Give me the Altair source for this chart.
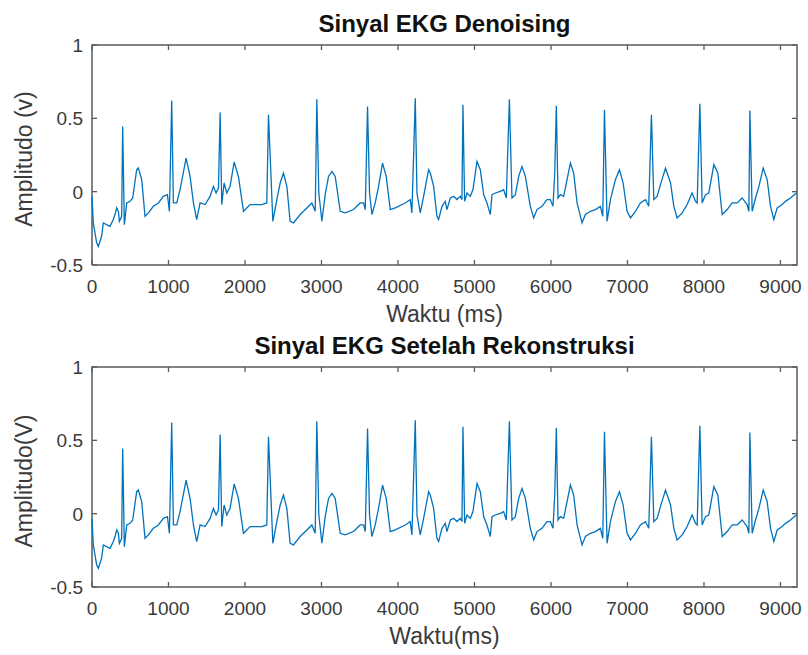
import altair as alt
import pandas as pd

# ECG trace, time in ms and amplitude in volts (vertices of the plotted polyline)
TIME = [
    0, 17, 61, 83, 126, 148, 235, 279, 301, 323, 345, 358, 388, 401, 423, 454, 497, 532,
    584, 606, 650, 693, 737, 802, 868, 933, 986, 1012, 1042, 1064, 1108, 1151, 1230, 1282,
    1326, 1369, 1413, 1478, 1544, 1587, 1622, 1653, 1675, 1696, 1727, 1762, 1805, 1858,
    1914, 1958, 1980, 2067, 2220, 2285, 2307, 2364, 2416, 2460, 2503, 2547, 2590, 2634,
    2721, 2809, 2874, 2918, 2939, 2965, 3005, 3048, 3092, 3136, 3179, 3245, 3310, 3419,
    3506, 3550, 3572, 3602, 3628, 3659, 3702, 3746, 3798, 3846, 3899, 3964, 4095, 4160,
    4182, 4226, 4248, 4291, 4335, 4400, 4422, 4466, 4509, 4531, 4575, 4618, 4640, 4684,
    4727, 4771, 4814, 4836, 4849, 4871, 4902, 4945, 4980, 5033, 5076, 5120, 5163, 5207,
    5229, 5272, 5338, 5381, 5416, 5456, 5490, 5534, 5578, 5621, 5665, 5730, 5774, 5817,
    5883, 5947, 5991, 6026, 6049, 6070, 6092, 6123, 6166, 6210, 6254, 6297, 6341, 6406,
    6450, 6515, 6581, 6646, 6677, 6699, 6733, 6777, 6842, 6895, 6943, 6995, 7039, 7104,
    7169, 7235, 7278, 7313, 7344, 7388, 7431, 7497, 7563, 7606, 7649, 7715, 7780, 7845,
    7889, 7911, 7946, 7976, 8020, 8063, 8129, 8181, 8238, 8303, 8369, 8434, 8499, 8564,
    8587, 8600, 8630, 8674, 8718, 8774, 8826, 8870, 8913, 8957, 9022, 9066, 9131, 9184,
    9210,
]
AMP = [
    -0.032, -0.213, -0.349, -0.372, -0.304, -0.213, -0.236, -0.190, -0.156, -0.111, -0.134,
    -0.202, -0.168, 0.444, -0.225, -0.077, -0.066, -0.043, 0.150, 0.161, 0.082, -0.168,
    -0.145, -0.100, -0.077, -0.032, -0.020, -0.134, 0.621, -0.077, -0.077, 0.014, 0.229,
    0.104, -0.077, -0.190, -0.077, -0.088, -0.032, 0.036, -0.009, 0.025, 0.540, -0.088,
    0.059, -0.009, 0.036, 0.202, 0.104, -0.054, -0.134, -0.088, -0.088, -0.077, 0.524,
    -0.202, -0.054, 0.059, 0.127, 0.036, -0.202, -0.213, -0.156, -0.111, -0.077, -0.134,
    0.630, -0.009, -0.202, -0.020, 0.104, 0.138, 0.104, -0.134, -0.145, -0.122, -0.077,
    -0.077, -0.122, 0.581, -0.009, -0.156, -0.077, 0.036, 0.195, 0.104, -0.122, -0.111,
    -0.077, -0.054, -0.145, 0.637, -0.009, -0.145, -0.032, 0.150, 0.127, 0.036, -0.168,
    -0.190, -0.100, -0.066, -0.122, -0.043, -0.032, -0.054, -0.032, -0.054, 0.592, -0.066,
    -0.009, -0.032, 0.014, 0.206, 0.150, -0.020, -0.077, -0.156, -0.020, -0.009, 0.002,
    0.014, -0.043, 0.630, -0.043, -0.020, 0.104, 0.172, 0.104, -0.100, -0.179, -0.122,
    -0.100, -0.054, -0.054, -0.100, 0.127, 0.585, -0.043, -0.020, -0.032, 0.082, 0.195,
    0.127, -0.077, -0.213, -0.156, -0.134, -0.122, -0.100, -0.168, 0.558, -0.202, -0.054,
    0.082, 0.150, 0.059, -0.134, -0.179, -0.134, -0.077, -0.054, -0.100, 0.524, -0.054,
    -0.032, 0.048, 0.161, 0.059, -0.100, -0.179, -0.145, -0.088, -0.009, -0.066, -0.077,
    0.599, -0.077, -0.020, -0.009, 0.184, 0.127, -0.156, -0.122, -0.077, -0.077, -0.043,
    -0.088, -0.134, 0.553, -0.134, -0.043, 0.036, 0.161, 0.082, -0.100, -0.190, -0.111,
    -0.088, -0.066, -0.043, -0.020, -0.010,
]

X_TICKS = [0, 1000, 2000, 3000, 4000, 5000, 6000, 7000, 8000, 9000]
X_LABELS = ["0", "1000", "2000", "3000", "4000", "5000", "6000", "7000", "8000", "9000"]
Y_TICKS = [-0.5, 0, 0.5, 1]
Y_LABELS = ["-0.5", "0", "0.5", "1"]
X_DOMAIN = [0, 9216]
Y_DOMAIN = [-0.5, 1]

W, H = 705, 220
TICK_LEN = 5
FONT = "Liberation Sans"
LINE_BLUE = "#0072BD"
BOX_COLOR = "#565b61"
TEXT_GREY = "#3a3a3a"
TICK_FONT = 19
LABEL_FONT = 23
TITLE_FONT = 24

signal = pd.DataFrame({"t": TIME, "v": AMP})
xticks = pd.DataFrame({"t": X_TICKS, "label": X_LABELS})
yticks = pd.DataFrame({"v": Y_TICKS, "label": Y_LABELS})

# closed outline of the plot box, corner by corner
x0, x1 = X_DOMAIN
y0, y1 = Y_DOMAIN
frame = pd.DataFrame({
    "t": [x0, x1, x1, x0, x0],
    "v": [y0, y0, y1, y1, y0],
    "k": [0, 1, 2, 3, 4],
})

# short inward tick segments on every side, one two-point line per tick
dv = TICK_LEN / H * (y1 - y0)
dt = TICK_LEN / W * (x1 - x0)
seg_rows = []
for i, t in enumerate(X_TICKS):
    seg_rows += [("xb%d" % i, t, y0, 0), ("xb%d" % i, t, y0 + dv, 1),
                 ("xt%d" % i, t, y1, 0), ("xt%d" % i, t, y1 - dv, 1)]
for i, v in enumerate(Y_TICKS):
    seg_rows += [("yl%d" % i, x0, v, 0), ("yl%d" % i, x0 + dt, v, 1),
                 ("yr%d" % i, x1, v, 0), ("yr%d" % i, x1 - dt, v, 1)]
segments = pd.DataFrame(seg_rows, columns=["id", "t", "v", "k"])


def panel(title, xtitle, ytitle):
    xs = alt.Scale(domain=X_DOMAIN, nice=False, zero=False)
    ys = alt.Scale(domain=Y_DOMAIN, nice=False, zero=False)
    X = lambda f: alt.X(f, type="quantitative", scale=xs, axis=None)
    Y = lambda f: alt.Y(f, type="quantitative", scale=ys, axis=None)

    line = alt.Chart(signal).mark_line(
        color=LINE_BLUE, strokeWidth=1.3
    ).encode(x=X("t"), y=Y("v"))

    box = alt.Chart(frame).mark_line(
        color=BOX_COLOR, strokeWidth=1.5
    ).encode(x=X("t"), y=Y("v"), order="k:O")

    ticks = alt.Chart(segments).mark_line(
        color=BOX_COLOR, strokeWidth=1.3
    ).encode(x=X("t"), y=Y("v"), detail="id:N", order="k:O")

    # tick labels
    txt = dict(font=FONT, fontSize=TICK_FONT, color=TEXT_GREY)
    x_labels = alt.Chart(xticks).mark_text(
        align="center", baseline="alphabetic", **txt
    ).encode(x=X("t"), y=alt.value(H + 28), text="label:N")
    y_labels = alt.Chart(yticks).mark_text(
        align="right", baseline="middle", dy=1, **txt
    ).encode(y=Y("v"), x=alt.value(-9), text="label:N")

    # axis titles
    x_title = alt.Chart(pd.DataFrame({"label": [xtitle]})).mark_text(
        align="center", baseline="alphabetic", font=FONT, fontSize=LABEL_FONT,
        color=TEXT_GREY,
    ).encode(x=alt.value(W / 2), y=alt.value(H + 57), text="label:N")
    y_title = alt.Chart(pd.DataFrame({"label": [ytitle]})).mark_text(
        align="center", baseline="middle", angle=270, font=FONT,
        fontSize=LABEL_FONT, color=TEXT_GREY,
    ).encode(x=alt.value(-67), y=alt.value(H / 2 + 4), text="label:N")

    return alt.layer(
        box, ticks, line, x_labels, y_labels, x_title, y_title,
    ).properties(
        width=W, height=H,
        title=alt.TitleParams(
            text=title, fontSize=TITLE_FONT, fontWeight="bold", font=FONT,
            color="#111111", anchor="middle", offset=0,
        ),
    )


top = panel("Sinyal EKG Denoising", "Waktu (ms)", "Amplitudo (v)")
bottom = panel("Sinyal EKG Setelah Rekonstruksi", "Waktu(ms)", "Amplitudo(V)")

chart = alt.vconcat(top, bottom, spacing=8).properties(
    padding={"left": 14, "top": 13, "right": 0, "bottom": 0},
    background="white",
).configure_view(
    stroke=None,
)

chart.save("out.html", embed_options={"renderer": "svg", "actions": False})
